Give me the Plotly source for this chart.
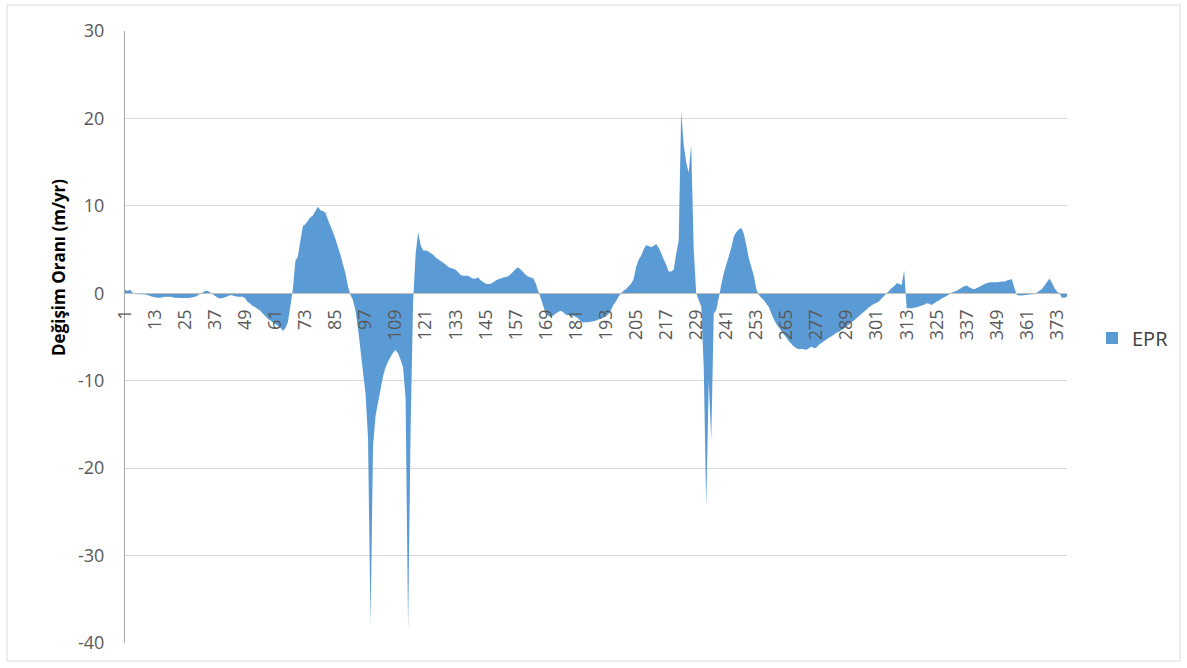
import plotly.graph_objects as go

# EPR values for transects 1..377
epr = [
    0.4, 0.3, 0.4, 0.1, -0.05, -0.1, -0.1, -0.1, -0.15, -0.2,
    -0.3, -0.4, -0.45, -0.5, -0.5, -0.45, -0.4, -0.4, -0.4, -0.45,
    -0.5, -0.5, -0.55, -0.55, -0.55, -0.55, -0.5, -0.45, -0.4, -0.25,
    -0.05, 0.1, 0.25, 0.3, 0.1, -0.1, -0.3, -0.5, -0.6, -0.55,
    -0.45, -0.35, -0.2, -0.25, -0.35, -0.4, -0.4, -0.4, -0.6, -1.0,
    -1.2, -1.45, -1.6, -1.8, -2.0, -2.3, -2.6, -2.9, -3.1, -3.35,
    -3.5, -3.7, -3.9, -4.3, -4.0, -3.3, -1.5, 0.5, 3.7, 4.2,
    6.0, 7.7, 7.9, 8.3, 8.7, 8.9, 9.4, 9.9, 9.5, 9.4,
    9.2, 8.4, 7.7, 7.0, 6.2, 5.3, 4.4, 3.3, 2.3, 0.8,
    -0.2, -0.8, -2.0, -4.0, -6.5, -9.0, -11.5, -16.5, -38.0, -17.5,
    -14.0, -12.5, -11.0, -9.5, -8.5, -7.8, -7.3, -6.8, -6.5, -6.9,
    -7.6, -8.5, -12.0, -38.4, -15.5, -1.0, 4.5, 7.0, 5.5, 4.9,
    4.9, 4.8, 4.6, 4.4, 4.1, 3.9, 3.7, 3.5, 3.3, 3.0,
    2.9, 2.8, 2.7, 2.4, 2.1, 2.0, 2.0, 2.0, 1.8, 1.65,
    1.7, 1.8, 1.5, 1.3, 1.1, 1.05, 1.1, 1.25, 1.45, 1.6,
    1.7, 1.8, 1.85, 1.95, 2.2, 2.5, 2.8, 2.95, 2.7, 2.4,
    2.1, 1.9, 1.8, 1.7, 1.1, 0.2, -0.6, -1.5, -2.3, -2.6,
    -2.7, -2.5, -2.3, -2.1, -2.0, -2.2, -2.45, -2.5, -2.55, -2.6,
    -2.7, -2.9, -3.2, -3.35, -3.3, -3.3, -3.25, -3.2, -3.1, -3.0,
    -2.9, -2.8, -2.6, -2.4, -1.9, -1.3, -0.9, -0.4, 0.0, 0.3,
    0.5, 0.8, 1.1, 1.6, 3.0, 3.8, 4.3, 5.0, 5.5, 5.4,
    5.3, 5.4, 5.65, 5.2, 4.6, 3.9, 3.3, 2.5, 2.5, 2.7,
    4.5, 6.0, 20.8, 17.0, 15.0, 13.8, 17.0, 5.0, 0.0, -0.8,
    -1.5, -8.4, -24.4, -10.0, -16.8, -2.3, -1.9, -0.5, 1.0, 2.3,
    3.3, 4.2, 5.2, 6.5, 7.0, 7.3, 7.5, 6.8, 5.5, 4.0,
    3.0, 2.0, 0.5, -0.2, -0.5, -0.8, -1.2, -1.6, -2.3, -3.0,
    -3.5, -3.9, -4.3, -4.7, -5.1, -5.5, -5.8, -6.1, -6.3, -6.4,
    -6.35, -6.4, -6.45, -6.3, -6.1, -6.3, -6.2, -5.9, -5.7, -5.5,
    -5.3, -5.1, -4.9, -4.7, -4.5, -4.4, -4.2, -4.0, -3.8, -3.6,
    -3.3, -3.1, -2.85, -2.6, -2.35, -2.1, -1.85, -1.6, -1.4, -1.2,
    -1.1, -0.9, -0.6, -0.3, 0.0, 0.3, 0.6, 0.8, 1.15, 1.1,
    0.95, 2.6, -1.7, -1.7, -1.7, -1.65, -1.6, -1.5, -1.4, -1.3,
    -1.15, -1.2, -1.35, -1.15, -0.95, -0.8, -0.6, -0.45, -0.3, -0.1,
    0.05, 0.2, 0.3, 0.45, 0.65, 0.8, 0.9, 0.7, 0.55, 0.45,
    0.6, 0.75, 0.9, 1.05, 1.15, 1.25, 1.25, 1.25, 1.25, 1.3,
    1.35, 1.35, 1.45, 1.55, 1.6, 0.6, -0.2, -0.25, -0.25, -0.2,
    -0.2, -0.15, -0.1, -0.1, 0.1, 0.3, 0.5, 0.85, 1.3, 1.7,
    1.2, 0.6, 0.2, 0.0, -0.5, -0.5, -0.4,
]
transects = list(range(1, len(epr) + 1))
x_tick_vals = list(range(1, 374, 12))
x_tick_text = [str(v) for v in x_tick_vals]
y_tick_vals = [-40, -30, -20, -10, 0, 10, 20, 30]
y_tick_text = [str(v) for v in y_tick_vals]  # plain hyphen minus as in the reference
series_name = "EPR"
y_title = "Değişim Oranı (m/yr)"

W, H = 1187, 668
L, R, T, B = 125, 1067, 31, 643
FONT = "Open Sans"
BLUE = "#5b9bd5"
GRAY = "#595959"

fig = go.Figure()
fig.add_trace(go.Scatter(
    x=transects, y=epr, mode="none", fill="tozeroy",
    fillcolor=BLUE, showlegend=False, hoverinfo="x+y",
))
fig.add_trace(go.Scatter(
    x=[None], y=[None], mode="markers", name=series_name,
    marker=dict(symbol="square", size=12, color=BLUE),
))

pw, ph = R - L, B - T

def px(xp):
    return (xp - L) / pw

def py(yp):
    return (B - yp) / ph

fig.update_layout(
    width=W, height=H,
    margin=dict(l=L, r=W - R, t=T, b=H - B),
    paper_bgcolor="white", plot_bgcolor="white",
    font=dict(family=FONT, size=18, color=GRAY),
    showlegend=True,
    legend=dict(x=px(1092), y=py(338), xanchor="left", yanchor="middle",
                font=dict(family=FONT, size=20, color="#404040"),
                bgcolor="rgba(0,0,0,0)", itemwidth=30),
    xaxis=dict(
        range=[1, len(epr)], tickmode="array", tickvals=x_tick_vals,
        ticktext=x_tick_text, tickangle=-90, showgrid=False,
        zeroline=False, showline=True, linecolor="#bfbfbf", linewidth=1,
        anchor="free", position=40 / 70, ticks="",
        ticklabelstandoff=8,
        tickfont=dict(family=FONT, size=18, color=GRAY),
    ),
    yaxis=dict(
        range=[-40, 30], tickmode="array", tickvals=y_tick_vals,
        ticktext=y_tick_text, showgrid=True,
        gridcolor="#d9d9d9", gridwidth=1, zeroline=False,
        showline=True, linecolor="#a6a6a6", linewidth=1, ticks="",
        ticklabelstandoff=16,
        tickfont=dict(family=FONT, size=18, color=GRAY),
    ),
    shapes=[dict(type="rect", xref="paper", yref="paper",
                 x0=px(7), x1=px(1180), y0=py(661), y1=py(5),
                 line=dict(color="#d9d9d9", width=1), layer="below")],
    annotations=[dict(text="<b>" + y_title + "</b>", xref="paper", yref="paper",
                      x=px(58), y=py(268), textangle=-90, showarrow=False,
                      xanchor="center", yanchor="middle",
                      font=dict(family=FONT, size=17, color="#000000"))],
)

fig.write_html("out.html", config={"displayModeBar": False},
               post_script="document.body.style.margin='0';")
